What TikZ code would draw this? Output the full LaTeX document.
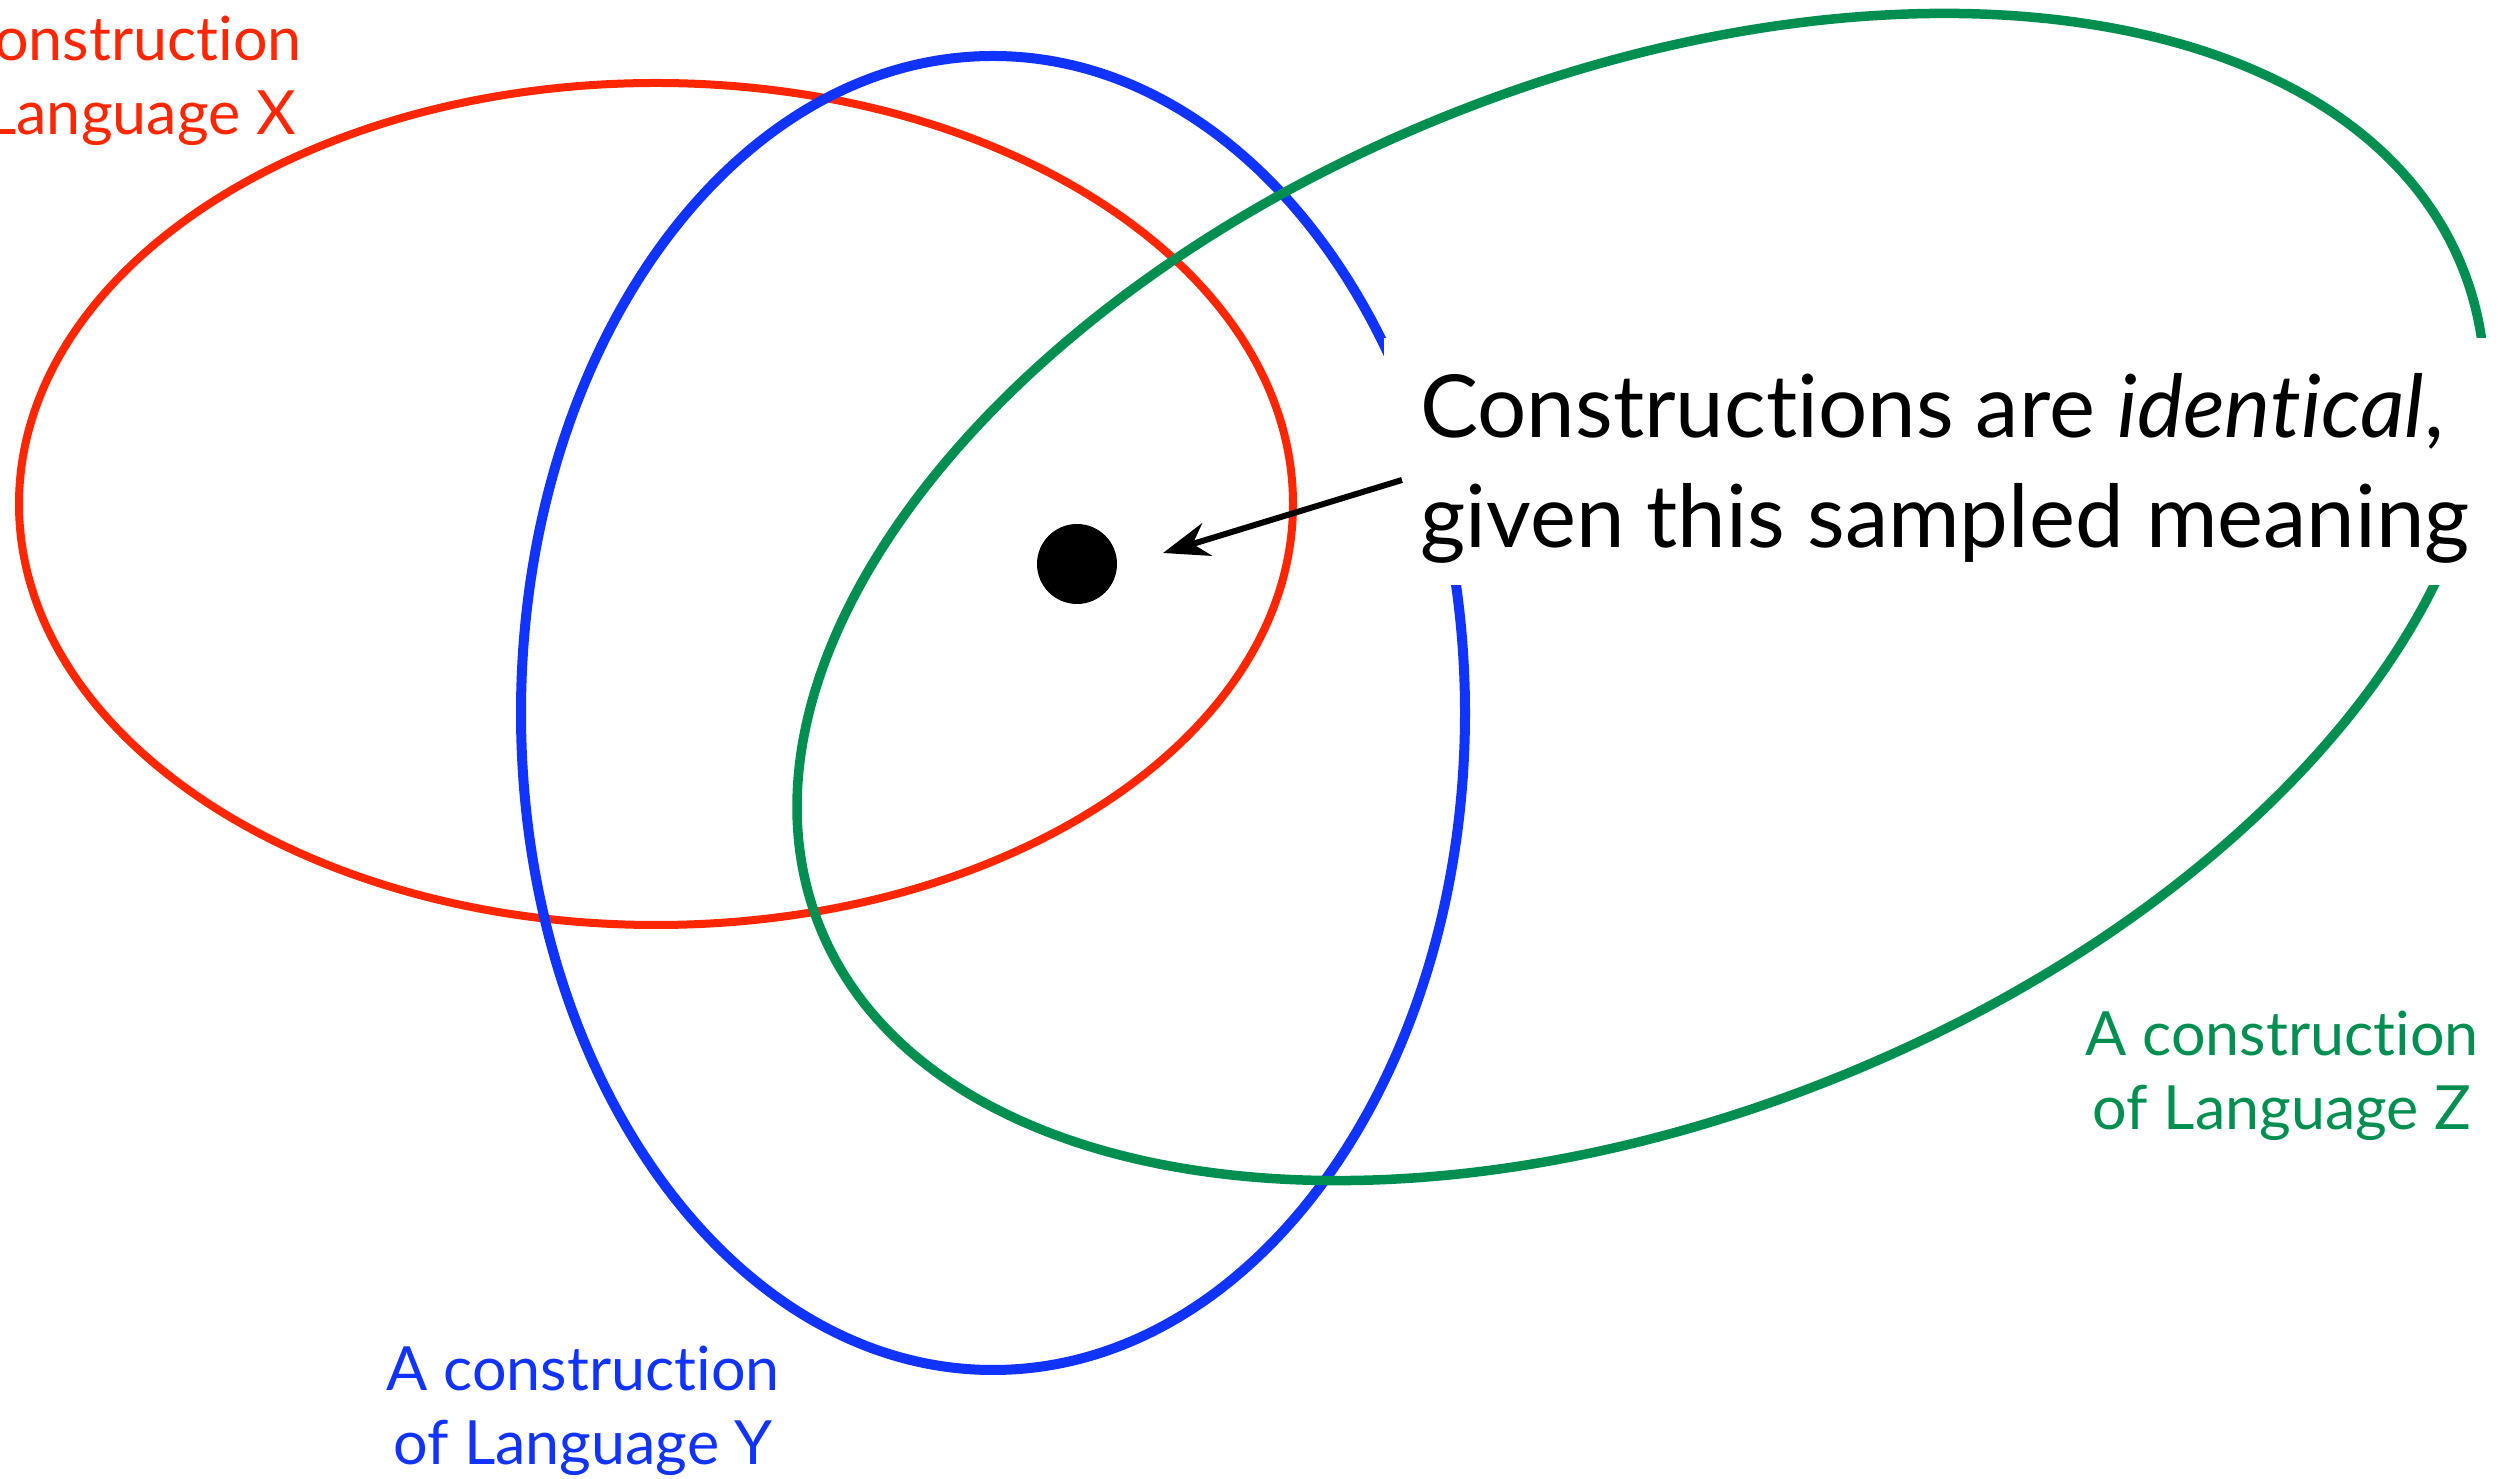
\documentclass[tikz,border=0pt]{standalone}
\usepackage{fontspec}
\setmainfont{Lato}[Ligatures=NoCommon]
\usetikzlibrary{arrows.meta,calc}
\definecolor{xred}{RGB}{255,38,0}
\definecolor{yblue}{RGB}{16,51,255}
\definecolor{zgreen}{RGB}{0,143,81}
\begin{document}
\begin{tikzpicture}[x=1pt,y=1pt,
  lbl/.style={align=center, inner sep=0pt, font=\fontsize{61}{74}\selectfont},
  msgtext/.style={align=left, inner sep=0pt, font=\fontsize{87}{110}\selectfont},
  curve/.style={line width=#1}]
\useasboundingbox (0,0) rectangle (2498,1478);
\clip (0,0) rectangle (2498,1478);
% red ellipse (Language X)
\draw[xred, curve=8pt] (656,974) ellipse [x radius=637pt, y radius=421pt];
% blue ellipse (Language Y)
\draw[yblue, curve=10pt] (993,765) ellipse [x radius=472pt, y radius=657pt];
% green ellipse (Language Z)
\begin{scope}[shift={(1641,881)}, rotate=21.85]
\draw[zgreen, curve=9.5pt] (0,0) ellipse [x radius=885pt, y radius=519pt];
\end{scope}
% white band behind the message
\node[fill=white, inner sep=0pt, minimum width=1114pt, minimum height=247pt, anchor=south west] (mask) at (1384,893) {};
% message (anchor = baseline of last line)
\node[msgtext, anchor=base west] (msg) at (1420,930) {Constructions are \textit{identical},\\given this sampled meaning};
% dot
\node[circle, fill=black, inner sep=0pt, minimum size=80pt] (dot) at (1077,914) {};
% arrow
\coordinate (astart) at (1402,998);
\coordinate (atip) at (1163,925);
\draw[line width=6pt, -{Stealth[length=46pt,width=34pt]}] (astart) -- (atip);
% labels (anchor = baseline of last line)
\node[lbl, xred, anchor=base] (lx) at (105,1343) {A construction\\of Language X};
\node[lbl, yblue, anchor=base] (ly) at (583,14) {A construction\\of Language Y};
\node[lbl, zgreen, anchor=base] (lz) at (2282,348) {A construction\\of Language Z};
\end{tikzpicture}
\end{document}
